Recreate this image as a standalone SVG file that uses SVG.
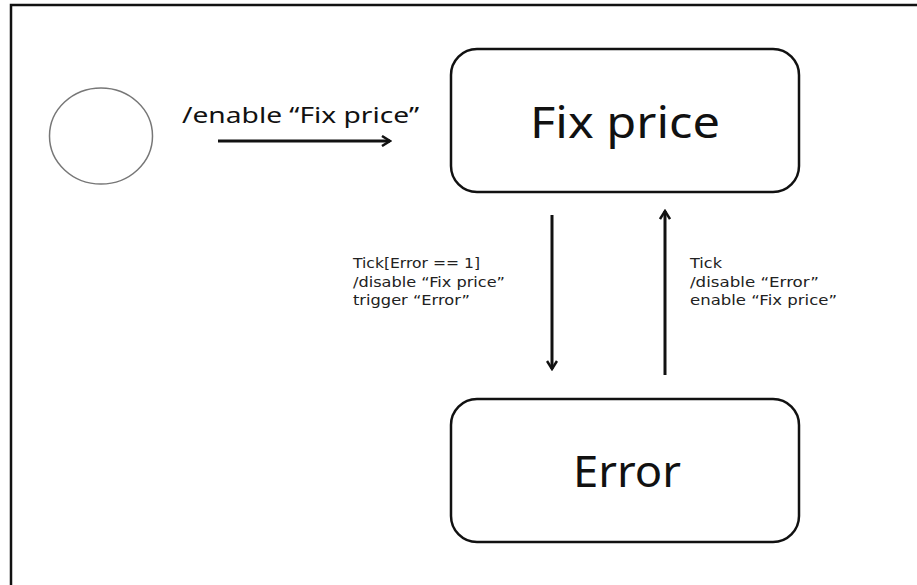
<svg xmlns="http://www.w3.org/2000/svg" width="917" height="585" viewBox="0 0 917 585">
<style>
  .state { fill: #ffffff; stroke: #111111; stroke-width: 2.5; }
  .conn { stroke: #111111; stroke-width: 3; fill: none; }
  .big { font-family: "Noto Sans", "Open Sans", sans-serif; font-size: 43px; fill: #111111; text-anchor: middle; }
  .lbl { font-family: "Noto Sans", "Open Sans", sans-serif; font-size: 21.5px; fill: #111111; }
  .small { font-family: "DejaVu Sans", "Noto Sans", sans-serif; font-size: 14.5px; fill: #222222; }
</style>
<defs>
  <marker id="arrow" viewBox="0 0 12 12" refX="10" refY="6" markerWidth="12" markerHeight="12" markerUnits="userSpaceOnUse" orient="auto">
    <path d="M2,1 L10,6 L2,11" fill="none" stroke="#111111" stroke-width="2.5"/>
  </marker>
</defs>
<rect width="917" height="585" fill="#ffffff"/>
<g id="frame">
  <path d="M11,585 L11,5 L917,5" fill="none" stroke="#111111" stroke-width="2.5"/>
</g>
<g id="start">
  <ellipse cx="101" cy="136" rx="51.5" ry="48" fill="#ffffff" stroke="#777777" stroke-width="1.5"/>
</g>
<g id="fix-price">
  <rect class="state" x="451" y="49" width="348" height="143" rx="26" ry="26"/>
  <text class="big" x="625" y="138" textLength="190" lengthAdjust="spacingAndGlyphs">Fix price</text>
</g>
<g id="error">
  <rect class="state" x="451" y="399" width="348" height="143" rx="26" ry="26"/>
  <text class="big" x="627" y="487" textLength="108" lengthAdjust="spacingAndGlyphs">Error</text>
</g>
<g id="connectors">
  <line class="conn" x1="218" y1="141" x2="390" y2="141" marker-end="url(#arrow)"/>
  <line class="conn" x1="552" y1="215" x2="552" y2="369" marker-end="url(#arrow)"/>
  <line class="conn" x1="665" y1="375" x2="665" y2="211" marker-end="url(#arrow)"/>
</g>
<g id="labels">
  <text class="lbl" x="182" y="123" textLength="237" lengthAdjust="spacingAndGlyphs">/enable “Fix price”</text>
  <text class="small" x="353" y="268" textLength="127" lengthAdjust="spacingAndGlyphs">Tick[Error == 1]</text>
  <text class="small" x="353" y="287" textLength="152" lengthAdjust="spacingAndGlyphs">/disable “Fix price”</text>
  <text class="small" x="353" y="305" textLength="117" lengthAdjust="spacingAndGlyphs">trigger “Error”</text>
  <text class="small" x="690" y="268" textLength="32" lengthAdjust="spacingAndGlyphs">Tick</text>
  <text class="small" x="690" y="287" textLength="129" lengthAdjust="spacingAndGlyphs">/disable “Error”</text>
  <text class="small" x="690" y="305" textLength="147" lengthAdjust="spacingAndGlyphs">enable “Fix price”</text>
</g>
</svg>
